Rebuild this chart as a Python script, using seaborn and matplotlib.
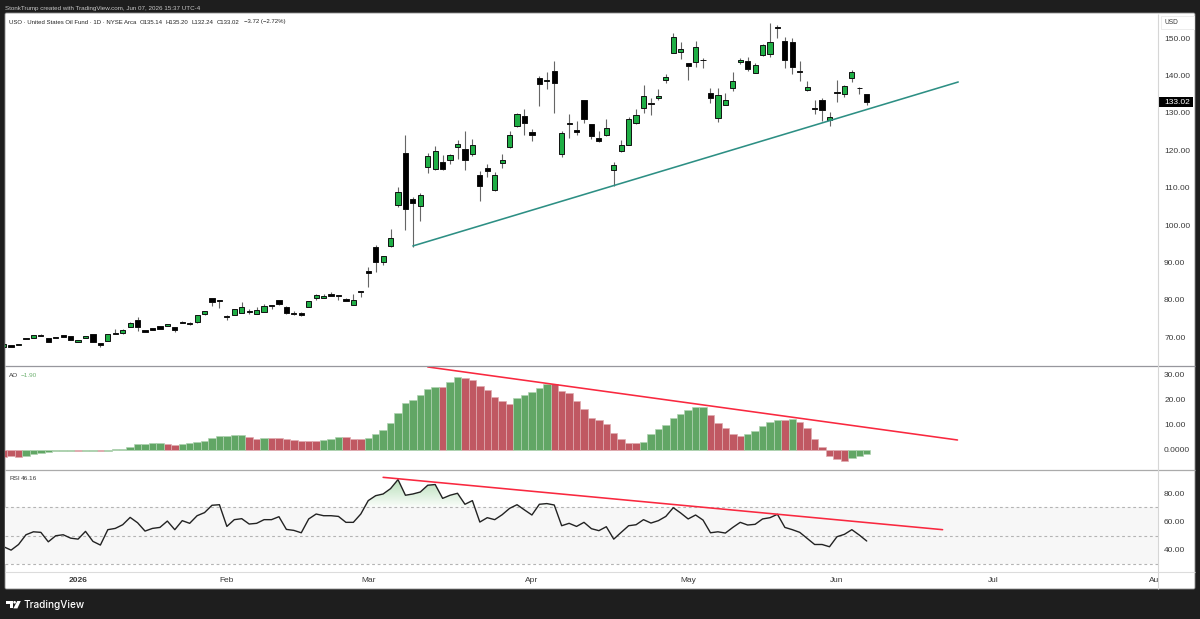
import numpy as np
import pandas as pd
import matplotlib
matplotlib.use("Agg")
import matplotlib.pyplot as plt
from matplotlib.patches import FancyBboxPatch, Polygon, Circle, Rectangle
from matplotlib.path import Path
import seaborn as sns

# Daily USO sessions, in chart order
opens = [67.3,68.0,67.8,69.8,69.8,70.6,69.8,70.0,70.46,70.38,
         68.6,69.75,70.8,68.4,68.95,71.0,71.0,72.8,74.5,71.8,
         72.4,73.05,73.0,72.6,74.0,73.75,73.95,76.3,80.4,79.8,
         75.7,76.0,76.5,77.0,76.3,76.8,78.5,79.8,78.15,76.45,
         76.35,78.0,80.55,80.55,81.6,81.35,80.3,78.6,82.25,87.8,
         94.2,90.2,94.5,105.4,119.4,107.05,105.0,115.6,115.0,116.9,
         117.4,121.0,120.45,118.9,113.3,115.3,109.3,116.7,120.8,126.6,
         129.2,124.8,139.3,138.6,141.15,119.0,127.2,125.5,133.4,127.05,
         123.2,124.0,114.7,119.8,121.4,127.2,131.25,132.6,133.9,138.75,
         146.15,146.25,143.5,143.75,144.1,135.35,128.75,132.2,136.6,143.75,
         143.85,140.8,145.45,145.9,153.0,149.4,149.1,141.35,136.15,131.35,
         133.4,128.2,135.7,135.1,139.4,136.8,135.14]
highs = [68.1,68.0,68.2,69.8,70.5,70.7,69.8,70.0,70.5,70.4,
         69.2,70.4,70.8,68.5,70.8,72.1,72.25,74.0,75.4,71.9,
         72.4,73.1,73.6,72.6,74.2,74.1,75.8,76.95,80.4,79.9,
         75.8,77.6,79.5,77.5,78.1,78.85,78.6,79.9,78.2,77.0,
         76.6,79.6,81.5,81.5,82.2,81.4,80.4,81.5,82.25,88.8,
         94.6,91.6,99.0,110.1,124.1,107.6,108.5,119.2,121.2,118.8,
         119.0,122.8,125.2,123.1,114.55,116.3,114.3,118.9,125.3,130.1,
         131.0,125.7,139.9,140.9,143.8,125.1,129.6,127.8,133.4,127.05,
         125.2,128.3,117.0,122.9,128.8,131.0,137.5,133.9,136.3,140.35,
         151.5,149.0,143.5,149.4,144.75,136.6,136.8,135.3,141.0,144.75,
         144.9,143.3,148.4,154.0,153.5,150.45,150.2,143.85,138.65,133.5,
         133.9,130.35,138.85,137.5,141.5,137.05,135.20]
lows = [67.3,67.3,67.8,69.6,69.8,70.3,68.6,69.75,69.93,69.2,
        68.6,69.75,68.6,67.4,68.9,70.9,70.8,72.8,71.7,71.3,
        71.8,72.1,73.0,71.45,73.7,73.15,73.9,75.9,78.4,77.9,
        74.6,76.0,76.5,76.1,76.3,76.8,77.6,78.5,76.1,75.8,
        75.55,78.0,80.0,80.5,81.0,80.0,79.75,78.6,80.8,83.4,
        87.5,89.3,94.2,104.75,98.7,94.2,101.2,114.0,114.7,114.7,
        116.25,117.6,114.7,118.4,106.5,112.95,109.1,115.4,120.5,126.3,
        124.2,122.6,132.0,136.5,130.1,118.1,123.2,124.2,127.2,123.0,
        122.3,123.9,110.5,119.55,121.3,127.1,129.9,129.55,133.5,138.0,
        146.0,144.55,138.85,142.25,142.15,132.7,127.6,132.15,136.0,143.1,
        141.35,140.6,145.25,145.1,150.2,142.0,140.35,138.65,136.0,129.75,
        127.85,126.6,133.05,134.2,138.4,135.0,132.24]
closes = [68.1,67.3,68.2,69.6,70.5,70.3,68.6,69.75,69.93,69.2,
          69.2,70.4,68.6,67.9,70.8,70.9,71.9,73.8,72.6,71.3,
          71.8,72.1,73.6,71.9,73.85,73.6,75.8,76.9,79.3,79.7,
          75.5,77.6,78.05,76.8,77.2,78.2,78.2,78.95,76.55,76.3,
          75.8,79.6,81.35,81.1,81.0,80.9,79.75,79.8,82.1,87.25,
          90.2,91.6,96.45,108.75,104.3,105.9,108.0,118.5,119.9,115.0,
          118.8,121.6,117.4,121.4,110.5,114.5,113.5,117.3,124.1,129.8,
          127.2,124.1,137.85,138.85,138.0,124.55,127.0,124.8,128.5,123.8,
          122.6,125.9,116.2,121.3,128.3,129.4,134.6,132.4,134.55,139.55,
          150.45,147.05,142.7,147.6,144.2,133.9,134.8,133.6,138.55,144.3,
          141.9,142.95,148.1,149.1,152.85,144.1,142.4,140.9,136.9,131.1,
          130.7,128.9,135.45,137.25,140.9,136.6,133.02]

# Awesome Oscillator histogram
ao_values = [-2.8,-2.7,-3.0,-2.6,-1.9,-1.2,-0.8,-0.5,-0.4,-0.4,
             -0.5,-0.4,-0.4,-0.65,-0.5,0.1,0.4,1.1,2.1,2.25,
             2.5,2.65,2.4,2.0,2.4,2.65,3.05,3.6,4.8,5.55,
             5.55,5.8,5.85,5.0,4.4,4.6,4.6,4.6,4.4,4.0,
             3.45,3.45,3.4,3.85,4.4,5.0,5.0,4.4,4.2,4.8,
             6.1,7.95,10.5,14.6,18.5,19.6,21.6,24.2,25.0,24.8,
             27.0,28.9,28.5,27.7,25.4,23.8,21.1,19.3,18.3,20.4,
             21.6,22.8,24.6,26.1,26.1,23.4,22.6,19.3,16.2,12.6,
             11.7,10.3,6.75,4.1,2.8,2.8,3.2,6.1,8.1,9.9,
             12.6,14.3,15.6,17.0,17.0,13.8,10.6,8.6,6.2,5.3,
             6.2,7.4,9.3,10.9,11.8,11.9,12.3,11.1,8.6,4.2,
             1.1,-2.5,-3.7,-4.4,-3.2,-2.4,-1.9]
ao_states = list("rrrggggggg" "rggrgggggg" "ggrrgggggg" "gggrrgrrrr"
                 "rrrgggrrrg" "gggggggggr" "ggrrrrrrrg" "ggggrrrrrr"
                 "rrrrrrgggg" "gggggrrrrr" "gggggrgrrr" "rrrrggg")

# 14-period RSI
rsi_values = [42.1,39.7,43.7,50.6,52.7,52.3,45.6,49.9,50.6,48.2,
              47.5,53.0,45.9,43.3,54.2,55.1,57.7,62.9,59.1,53.2,
              55.1,55.8,60.3,54.2,60.6,58.7,64.1,66.3,71.5,71.9,
              56.5,61.3,62.0,58.2,58.7,61.3,61.3,63.4,54.4,53.7,
              52.0,61.8,65.3,64.1,64.1,63.6,59.4,59.4,65.3,74.8,
              78.3,79.5,83.3,89.7,78.6,79.5,80.9,85.7,86.2,76.4,
              78.6,80.0,72.2,74.8,59.6,62.7,61.3,64.8,69.3,71.9,
              68.2,64.6,72.2,72.7,71.7,57.0,58.7,56.5,59.4,54.9,
              53.5,56.3,47.5,52.3,57.0,57.7,61.3,58.9,60.6,63.6,
              69.8,66.0,61.8,64.6,61.0,52.0,52.7,51.8,55.8,59.4,
              57.5,58.0,61.8,62.7,65.1,55.8,54.2,52.3,48.0,43.7,
              43.7,42.1,49.2,50.9,54.2,50.4,46.16]

# Hand-drawn trendlines: (session, value) end points
support_line = ([55.0, 128.3], [94.4, 138.3])
ao_resistance = ([57.0, 128.2], [32.9, 3.86])
rsi_resistance = ([51.0, 126.2], [91.3, 54.2])

price_ticks = [70, 80, 90, 100, 110, 120, 130, 140, 150]
ao_ticks = [0, 10, 20, 30]
ao_tick_labels = ["0.0000", "10.00", "20.00", "30.00"]
rsi_ticks = [40, 60, 80]
month_sessions = [10, 30, 49, 71, 92, 112, 133, 155]
month_labels = ["2026", "Feb", "Mar", "Apr", "May", "Jun", "Jul", "Aug"]

# Legend strip above the price pane: text and its left edge in pixels
header_parts = [("USO · United States Oil Fund · 1D · NYSE Arca", 9), ("O135.14", 139.3),
                ("H135.20", 165), ("L132.24", 191.7), ("C133.02", 217), ("−3.72 (−2.72%)", 244)]

sns.set_theme(style="white")
plt.rcParams["font.family"] = ["Liberation Sans", "DejaVu Sans"]

DARK = "#1e1e1e"
TEXT = "#3a3a3a"
fig = plt.figure(figsize=(12, 6.19), dpi=100, facecolor=DARK)
W, H = 1200.0, 619.0


def pane(left, top, right, bottom):
    """Axes placed by pixel edges measured from the top left corner."""
    return fig.add_axes([left / W, 1 - bottom / H, (right - left) / W, (bottom - top) / H])


# Pixel-addressed layers for the frame, the badges and the logo
back = fig.add_axes([0, 0, 1, 1], zorder=0)
back.set(xlim=(0, W), ylim=(H, 0))
back.axis("off")
back.add_patch(FancyBboxPatch((5, 13), 1190, 576, boxstyle="round,pad=0,rounding_size=1.5",
                              fc="white", ec="#8c8c8c", lw=0.6))

L, R = 5, 1158
xlim = (0.18, 155.15)
ax_price = pane(L, 13, R, 366)
ax_ao = pane(L, 366, R, 470)
ax_rsi = pane(L, 470, R, 572)
ax_time = pane(L, 572, R, 589)

for ax in (ax_price, ax_ao, ax_rsi, ax_time):
    ax.set_zorder(1)
    ax.patch.set_alpha(0)
    ax.set_xlim(*xlim)
    ax.grid(False)
    for side in ax.spines:
        ax.spines[side].set_visible(False)

sessions = np.arange(len(closes))
opens_a, highs_a, lows_a, closes_a = map(np.array, (opens, highs, lows, closes))

# Price pane: candles
up = closes_a >= opens_a
ax_price.vlines(sessions, lows_a, highs_a, color="#666666", lw=0.8, zorder=2)
ax_price.bar(sessions, closes_a - opens_a, bottom=opens_a, width=0.7,
             color=np.where(up, "#1fae45", "#000000"), edgecolor="#111111", lw=0.7, zorder=3)
ax_price.plot(*support_line, color="#2d8f84", lw=1.15, zorder=4, solid_capstyle="round")
ax_price.set_ylim(62.26, 156.77)

# AO pane: histogram
ao_frame = pd.DataFrame({"session": sessions, "ao": ao_values, "state": ao_states})
sns.barplot(data=ao_frame, x="session", y="ao", hue="state", native_scale=True, dodge=False,
            width=1.0, palette={"g": "#61a665", "r": "#c05862"}, legend=False, ax=ax_ao, zorder=2,
            saturation=1)
for bar in ax_ao.patches:
    r, g, b, _ = bar.get_facecolor()
    bar.set_edgecolor((r + (1 - r) * 0.5, g + (1 - g) * 0.5, b + (1 - b) * 0.5, 1))
    bar.set_linewidth(0.5)
ax_ao.plot(*ao_resistance, color="#f9283f", lw=1.15, zorder=4)
ax_ao.set_xlim(*xlim)
ax_ao.set_ylim(-8.07, 33.28)

# RSI pane: band, level lines, overbought shading and the line itself
ax_rsi.axhspan(30, 70, color="#f7f7f7", lw=0, zorder=0)
for level in (70, 50, 30):
    ax_rsi.axhline(level, color="#b4b4b4", lw=0.8, ls=(0, (2.5, 2.5)), zorder=1)
rsi_a = np.array(rsi_values, dtype=float)
over = ax_rsi.fill_between(sessions, 70, rsi_a, where=rsi_a >= 70, interpolate=True, alpha=0)
ramp = np.zeros((64, 2, 4))
ramp[..., :3] = matplotlib.colors.to_rgb("#4caf50")
ramp[..., 3] = np.linspace(0.42, 0.03, 64)[:, None]
shade = ax_rsi.imshow(ramp, extent=(xlim[0], xlim[1], 70, 90), aspect="auto", zorder=1.5,
                      interpolation="bilinear")
shade.set_clip_path(Path.make_compound_path(*over.get_paths()), ax_rsi.transData)
sns.lineplot(x=sessions, y=rsi_a, color="#222222", lw=1.0, estimator=None, ax=ax_rsi, zorder=3)
ax_rsi.plot(*rsi_resistance, color="#f9283f", lw=1.15, zorder=4)
ax_rsi.set_xlim(*xlim)
ax_rsi.set_ylim(24.2, 96.5)

# Right-hand scales
for ax, ticks, labels in (
    (ax_price, price_ticks, [f"{t:.2f}" for t in price_ticks]),
    (ax_ao, ao_ticks, ao_tick_labels),
    (ax_rsi, rsi_ticks, [f"{t:.2f}" for t in rsi_ticks]),
):
    ax.yaxis.tick_right()
    ax.set_yticks(ticks)
    ax.set_yticklabels(labels)
    ax.tick_params(axis="y", length=0, pad=4.4, labelsize=6.0, labelcolor=TEXT)
    ax.set_xticks([])
    ax.set_xlabel("")
    ax.set_ylabel("")

# Time axis: labels sit inside the strip, so the last one is cut at the price scale
ax_time.set_yticks([])
ax_time.set_xticks(month_sessions)
ax_time.set_xticklabels(month_labels)
ax_time.tick_params(axis="x", length=0, pad=-8.6, labelsize=6.0, labelcolor=TEXT)
for label in ax_time.get_xticklabels():
    label.set_clip_box(ax_time.bbox)
    label.set_clip_on(True)
    if label.get_text() == "2026":
        label.set_fontweight("bold")

# Frame lines, badges, headers and logo on top of the panes
top = fig.add_axes([0, 0, 1, 1], zorder=5)
top.set(xlim=(0, W), ylim=(H, 0))
top.axis("off")
top.patch.set_alpha(0)
top.plot([5, 1195], [366, 366], color="#97979d", lw=0.9, solid_capstyle="butt")
top.plot([5, 1195], [469.7, 469.7], color="#ababab", lw=0.9, solid_capstyle="butt")
top.plot([5, 1195], [572.3, 572.3], color="#dcdcdc", lw=0.8, solid_capstyle="butt")
top.plot([1158.3, 1158.3], [13.5, 588.5], color="#d6d6d6", lw=0.8, solid_capstyle="butt")

top.add_patch(Rectangle((1160.5, 15.5), 33, 13, fc="white", ec="#ececec", lw=0.7))
top.text(1164.5, 22.2, "USD", fontsize=4.8, color=TEXT, va="center")
top.add_patch(Rectangle((1158.8, 96.7), 34, 10.7, fc="black", ec="none"))
top.text(1164, 102.2, f"{closes[-1]:.2f}", fontsize=6.0, color="white", va="center")

top.text(5, 8.6, "StonkTrump created with TradingView.com, Jun 07, 2026 15:37 UTC-4",
         fontsize=4.5, color="#c8c8c8", va="center")
for part, left in header_parts:
    top.text(left, 22, part, fontsize=4.3, color="#222222", va="center")
top.text(9, 375.7, "AO", fontsize=4.6, color=TEXT, va="center")
top.text(21, 375.7, "−1.90", fontsize=4.6, color="#6fb272", va="center")
top.text(9, 478.5, "RSI", fontsize=4.6, color=TEXT, va="center")
top.text(21, 478.5, "46.16", fontsize=4.6, color=TEXT, va="center")

top.add_patch(Polygon([(6, 601), (12.6, 601), (12.6, 608.4), (9.6, 608.4), (9.6, 603.6), (6, 603.6)],
                      fc="white", ec="none"))
top.add_patch(Circle((14.6, 602.3), 1.35, fc="white", ec="none"))
top.add_patch(Polygon([(17.2, 601), (20.8, 601), (17.4, 608.4), (13.4, 608.4)], fc="white", ec="none"))
top.text(24, 604.8, "TradingView", fontsize=7.2, color="white", va="center",
         family=["Inter", "DejaVu Sans"], fontweight="medium")

fig.savefig("out.png", dpi=100, facecolor=DARK)
